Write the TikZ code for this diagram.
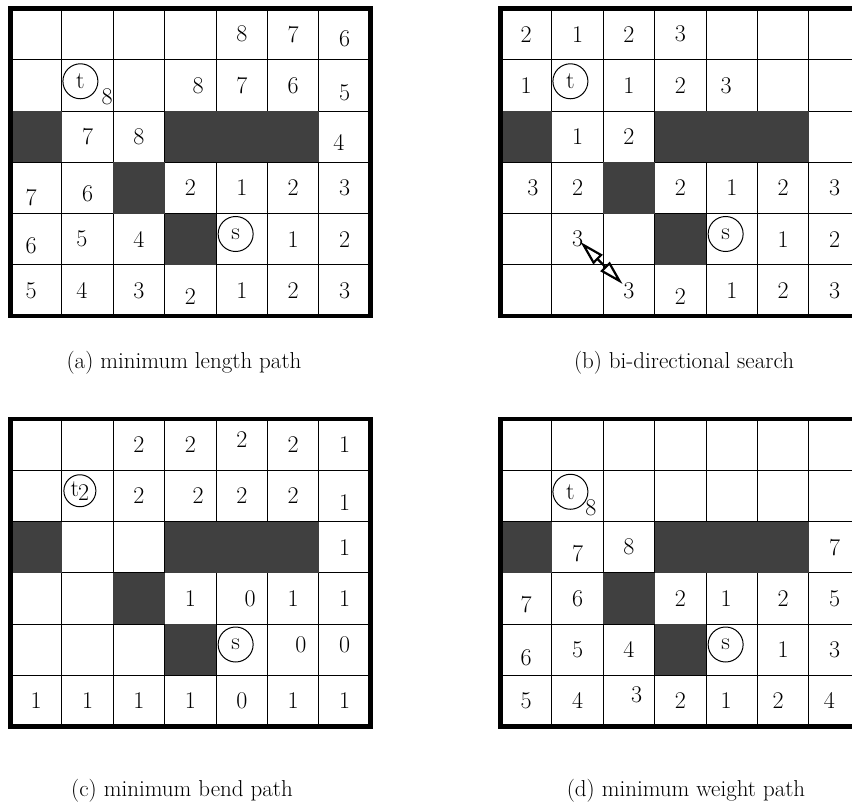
\documentclass[tikz,border=0pt]{standalone}
\usetikzlibrary{arrows.meta}

\tikzset{
  cellline/.style={line width=0.9pt},
  frame/.style={line width=4.6pt, line join=miter},
  wall/.style={fill=black!75},
  num/.style={inner sep=1pt, font=\fontsize{24}{28}\selectfont},
  endpt/.style={draw, circle, line width=1pt, minimum size=35pt, inner sep=0pt,
    font=\fontsize{24}{28}\selectfont},
  caption/.style={anchor=base, font=\fontsize{23}{27}\selectfont},
  bothways/.style={line width=2.2pt,
    {Triangle[open,length=25pt,width=13pt]}-{Triangle[open,length=25pt,width=13pt]}},
}

% the 7x6 board with its walls, drawn in cell units
\newcommand{\drawboard}{%
  \foreach \c in {1,...,6} \draw[cellline] (\c,0) -- (\c,6);
  \foreach \r in {1,...,5} \draw[cellline] (0,\r) -- (7,\r);
  \foreach \c/\r in {0/2, 3/2, 4/2, 5/2, 2/3, 3/4}
    \fill[wall] (\c,\r) rectangle ++(1,1);
  \draw[frame] (0,0) rectangle (7,6);
}

\begin{document}
\begin{tikzpicture}[x=1pt, y=-1pt]
  \useasboundingbox (0,0) rectangle (852,808);

  % (a) minimum length path
  \begin{scope}[shift={(10.5,8.5)}, x=51.4pt, y=-51.25pt]
    \drawboard
    \node[endpt] (ta) at (1.36,1.42) {t};
    \node[endpt] (sa) at (4.38,4.4) {s};
    \node[num] (ta8) at (1.88,1.73) {8};
    \foreach \x/\y/\n [count=\k] in {4.5/0.5/8, 5.5/0.5/7, 6.5/0.6/6,
        3.65/1.5/8, 4.5/1.5/7, 5.5/1.5/6, 6.5/1.64/5,
        1.5/2.5/7, 2.5/2.5/8, 6.39/2.62/4,
        0.4/3.68/7, 1.5/3.62/6, 3.5/3.5/2, 4.5/3.5/1, 5.5/3.5/2, 6.5/3.5/3,
        0.4/4.63/6, 1.39/4.5/5, 2.5/4.5/4, 5.5/4.5/1, 6.5/4.5/2,
        0.4/5.5/5, 1.39/5.5/4, 2.5/5.5/3, 3.5/5.63/2, 4.5/5.5/1, 5.5/5.5/2, 6.5/5.5/3}
      \node[num] (a\k) at (\x,\y) {\n};
  \end{scope}
  \node[caption] (capa) at (184,368) {(a) minimum length path};

  % (b) bi-directional search
  \begin{scope}[shift={(500.5,8.5)}, x=51.4pt, y=-51.25pt]
    \drawboard
    \node[endpt] (tb) at (1.36,1.42) {t};
    \node[endpt] (sb) at (4.38,4.4) {s};
    \foreach \x/\y/\n [count=\k] in {0.5/0.5/2, 1.5/0.5/1, 2.5/0.5/2, 3.5/0.5/3,
        0.5/1.5/1, 2.5/1.5/1, 3.5/1.5/2, 4.39/1.5/3,
        1.5/2.5/1, 2.5/2.5/2,
        0.63/3.5/3, 1.5/3.5/2, 3.5/3.5/2, 4.5/3.5/1, 5.5/3.5/2, 6.5/3.5/3,
        5.5/4.5/1, 6.5/4.5/2,
        3.5/5.63/2, 4.5/5.5/1, 5.5/5.5/2, 6.5/5.5/3}
      \node[num] (b\k) at (\x,\y) {\n};
    \node[num] (bmeet1) at (1.5,4.5) {3};
    \node[num] (bmeet2) at (2.5,5.5) {3};
    % the two searches meet here
    \draw[bothways, shorten <=4pt, shorten >=9pt] (bmeet1.center) -- (bmeet2.center);
  \end{scope}
  \node[caption] (capb) at (684,368) {(b) bi-directional search};

  % (c) minimum bend path
  \begin{scope}[shift={(10.5,419)}, x=51.4pt, y=-51.25pt]
    \drawboard
    \node[endpt, minimum size=32pt] (tc) at (1.35,1.4) {t\kern-1pt\raisebox{-4pt}{2}};
    \node[endpt] (sc) at (4.38,4.4) {s};
    \foreach \x/\y/\n [count=\k] in {2.5/0.5/2, 3.5/0.5/2, 4.5/0.41/2, 5.5/0.5/2, 6.5/0.5/1,
        2.5/1.5/2, 3.65/1.5/2, 4.5/1.5/2, 5.5/1.5/2, 6.5/1.64/1,
        6.5/2.5/1,
        3.5/3.5/1, 4.66/3.5/0, 5.5/3.5/1, 6.5/3.5/1,
        5.65/4.41/0, 6.5/4.41/0,
        0.5/5.5/1, 1.5/5.5/1, 2.5/5.5/1, 3.5/5.5/1, 4.5/5.5/0, 5.5/5.5/1, 6.5/5.5/1}
      \node[num] (c\k) at (\x,\y) {\n};
  \end{scope}
  \node[caption] (capc) at (182,796) {(c) minimum bend path};

  % (d) minimum weight path
  \begin{scope}[shift={(500.5,419)}, x=51.4pt, y=-51.25pt]
    \drawboard
    \node[endpt] (td) at (1.36,1.42) {t};
    \node[endpt] (sd) at (4.38,4.4) {s};
    \node[num] (td8) at (1.76,1.74) {8};
    \foreach \x/\y/\n [count=\k] in {1.5/2.62/7, 2.5/2.5/8, 6.5/2.5/7,
        0.5/3.62/7, 1.5/3.5/6, 3.5/3.5/2, 4.39/3.5/1, 5.5/3.5/2, 6.5/3.5/5,
        0.5/4.65/6, 1.5/4.5/5, 2.5/4.5/4, 5.5/4.5/1, 6.5/4.5/3,
        0.5/5.5/5, 1.5/5.5/4, 2.65/5.39/3, 3.5/5.5/2, 4.39/5.5/1, 5.4/5.5/2, 6.4/5.5/4}
      \node[num] (d\k) at (\x,\y) {\n};
  \end{scope}
  \node[caption] (capd) at (686,796) {(d) minimum weight path};
\end{tikzpicture}
\end{document}
